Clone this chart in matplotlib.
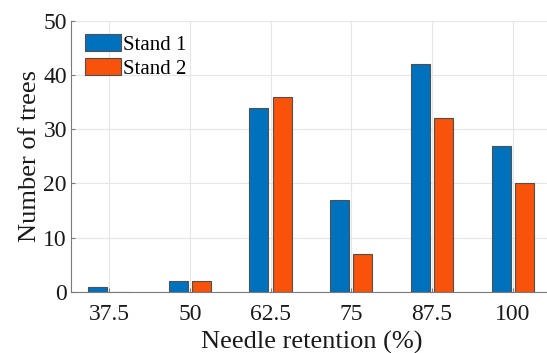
import matplotlib.pyplot as plt
import numpy as np

plt.rcParams['font.family'] = ['Liberation Serif', 'DejaVu Serif']

# data
retention = [37.5, 50, 62.5, 75, 87.5, 100]
tick_labels = ['37.5', '50', '62.5', '75', '87.5', '100']
stand1 = [1, 2, 34, 17, 42, 27]
stand2 = [0, 2, 36, 7, 32, 20]

blue = '#0072BD'
orange = '#F9520A'
edge = '#505050'

fig = plt.figure(figsize=(5.47, 3.53), dpi=100)
ax = fig.add_axes([0.130, 0.173, 0.881, 0.768])

x = np.array(retention)
w = 2.95
off = 1.8
ax.bar(x - off, stand1, width=w, color=blue, edgecolor=edge, linewidth=0.8, label='Stand 1')
ax.bar(x + off, stand2, width=w, color=orange, edgecolor=edge, linewidth=0.8, label='Stand 2')

ax.set_xlim(31.6, 106.25)
ax.set_ylim(0, 50)
ax.set_xticks(retention)
ax.set_xticklabels(tick_labels)
ax.set_yticks(np.arange(0, 51, 10))

ax.set_axisbelow(True)
ax.grid(True, color='#e6e6e6', linewidth=0.8)
for s in ['top', 'right']:
    ax.spines[s].set_visible(False)
for s in ['left', 'bottom']:
    ax.spines[s].set_color('#7a7a7a')
    ax.spines[s].set_linewidth(0.8)
ax.tick_params(direction='in', length=3, color='#7a7a7a', labelsize=17, labelcolor='#1a1a1a')
ax.tick_params(axis='x', pad=9)
ax.tick_params(axis='y', pad=3)

ax.set_xlabel('Needle retention (%)', fontsize=19, color='#1a1a1a', labelpad=4)
ax.set_ylabel('Number of trees', fontsize=19, color='#1a1a1a', labelpad=2)

leg = ax.legend(loc='upper left', bbox_to_anchor=(0.0, 1.0), frameon=False, fontsize=15,
                handlelength=1.75, handleheight=0.88, handletextpad=0.1, labelspacing=0.15,
                borderaxespad=0.45, borderpad=0.2)

fig.savefig('out.png', dpi=100)
